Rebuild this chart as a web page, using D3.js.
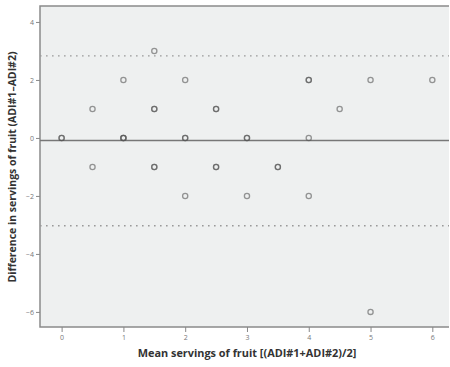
<!DOCTYPE html>
<html>
<head>
<meta charset="utf-8">
<script src="https://cdn.jsdelivr.net/npm/d3@7"></script>
<style>
  html, body { margin: 0; padding: 0; background: #fff; }
  svg { display: block; }
</style>
</head>
<body>
<svg id="chart" width="450" height="367"></svg>
<script>
// Bland–Altman data: mean of two ADI servings vs their difference
const meanServings = [0, 0, 0.5, 0.5, 1, 1, 1, 1, 1.5, 1.5, 1.5, 1.5, 1.5, 2, 2, 2, 2, 2.5, 2.5, 2.5, 2.5, 3, 3, 3, 3.5, 3.5, 4, 4, 4, 4, 4.5, 5, 5, 6];
const diffServings = [0, 0, 1, -1, 2, 0, 0, 0, 3, 1, 1, -1, -1, 2, 0, 0, -2, 1, 1, -1, -1, 0, 0, -2, -1, -1, 2, 2, 0, -2, 1, 2, -6, 2];
const meanDiff = -0.09;
const upperLimit = 2.83;
const lowerLimit = -3.03;
const xTicks = [0, 1, 2, 3, 4, 5, 6];
const yTicks = [-6, -4, -2, 0, 2, 4];
const xLabel = "Mean servings of fruit [(ADI#1+ADI#2)/2]";
const yLabel = "Difference in servings of fruit (ADI#1\u2013ADI#2)";

const svg = d3.select("#chart");
const plot = { left: 40, top: 6, right: 449, bottom: 327 };

const x = d3.scaleLinear().domain([-0.35, 6.27]).range([plot.left, plot.right]);
const y = d3.scaleLinear().domain([-6.52, 4.55]).range([plot.bottom, plot.top]);

// panel background
svg.append("rect")
  .attr("x", plot.left).attr("y", plot.top)
  .attr("width", plot.right - plot.left).attr("height", plot.bottom - plot.top)
  .attr("fill", "#eef0f0");

// frame: top, left, bottom
svg.append("path")
  .attr("d", `M${plot.right},${plot.top}H${plot.left}V${plot.bottom}H${plot.right}`)
  .attr("fill", "none").attr("stroke", "#8a8a8a").attr("stroke-width", 1.5);

// axes
const xAxis = d3.axisBottom(x).tickValues(xTicks).tickSize(5).tickPadding(3).tickFormat(d3.format("d"));
const gx = svg.append("g").attr("transform", `translate(0,${plot.bottom})`).call(xAxis);
gx.select(".domain").remove();
gx.selectAll("line").attr("stroke", "#888");
gx.selectAll("text").attr("font-family", "Open Sans, sans-serif").attr("font-size", 7).attr("fill", "#777");

const yAxis = d3.axisLeft(y).tickValues(yTicks).tickSize(4).tickPadding(2).tickFormat(d3.format("d"));
const gy = svg.append("g").attr("transform", `translate(${plot.left},0)`).call(yAxis);
gy.select(".domain").remove();
gy.selectAll("line").attr("stroke", "#888");
gy.selectAll("text").attr("font-family", "Open Sans, sans-serif").attr("font-size", 7).attr("fill", "#777");

// limits of agreement (dotted) and mean difference (solid)
[upperLimit, lowerLimit].forEach(v => {
  svg.append("line")
    .attr("x1", plot.left).attr("x2", plot.right)
    .attr("y1", y(v)).attr("y2", y(v))
    .attr("stroke", "#999").attr("stroke-width", 1.4)
    .attr("stroke-dasharray", "1.6,4.4");
});
svg.append("line")
  .attr("x1", plot.left).attr("x2", plot.right)
  .attr("y1", y(meanDiff)).attr("y2", y(meanDiff))
  .attr("stroke", "#777").attr("stroke-width", 1.5);

// observations
svg.append("g").selectAll("circle")
  .data(meanServings.map((m, i) => [m, diffServings[i]]))
  .join("circle")
  .attr("cx", d => x(d[0])).attr("cy", d => y(d[1]))
  .attr("r", 2.6)
  .attr("fill", "none")
  .attr("stroke", "#555")
  .attr("stroke-opacity", 0.6)
  .attr("stroke-width", 1.3);

// axis titles
svg.append("text")
  .attr("x", 247).attr("y", 357)
  .attr("text-anchor", "middle")
  .attr("font-family", "Open Sans, sans-serif")
  .attr("font-weight", "bold").attr("font-size", 10.9)
  .attr("fill", "#333")
  .text(xLabel);

svg.append("text")
  .attr("transform", "translate(16,167) rotate(-90)")
  .attr("text-anchor", "middle")
  .attr("font-family", "Open Sans, sans-serif")
  .attr("font-weight", "bold").attr("font-size", 10.5)
  .attr("fill", "#333")
  .text(yLabel);
</script>
</body>
</html>
